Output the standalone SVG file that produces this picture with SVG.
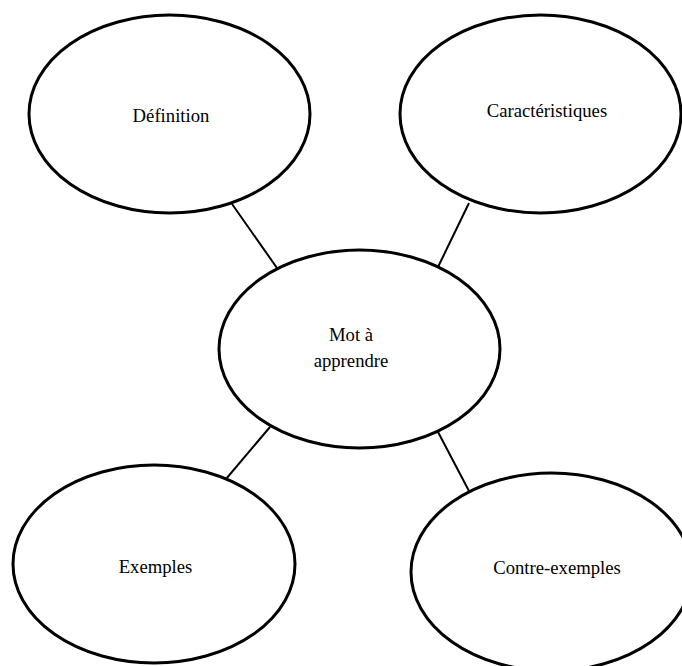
<svg xmlns="http://www.w3.org/2000/svg" width="682" height="666" viewBox="0 0 682 666">
<style>
.node ellipse{fill:#fff;stroke:#000;stroke-width:3}
.node text{font-family:"Liberation Serif","Times New Roman",serif;font-size:18.7px;fill:#000;text-anchor:middle}
#connectors line{stroke:#000;stroke-width:2}
</style>
<rect width="682" height="666" fill="#fff"/>
<g id="connectors">
<line x1="232" y1="204" x2="277" y2="268"/>
<line x1="469" y1="203" x2="438" y2="267"/>
<line x1="270" y1="427" x2="226" y2="479"/>
<line x1="438" y1="432" x2="469" y2="491"/>
</g>
<g id="definition" class="node">
<ellipse cx="169.5" cy="114" rx="140.5" ry="99"/>
<text x="171" y="122">Définition</text>
</g>
<g id="caracteristiques" class="node">
<ellipse cx="540.5" cy="114" rx="140.5" ry="99"/>
<text x="547" y="117">Caractéristiques</text>
</g>
<g id="mot" class="node">
<ellipse cx="359.5" cy="349" rx="140.5" ry="99"/>
<text x="351" y="341">Mot à</text>
<text x="351" y="367">apprendre</text>
</g>
<g id="exemples" class="node">
<ellipse cx="154" cy="564" rx="141" ry="99"/>
<text x="155.5" y="573">Exemples</text>
</g>
<g id="contre-exemples" class="node">
<ellipse cx="551.5" cy="572" rx="140.5" ry="99"/>
<text x="557" y="574">Contre-exemples</text>
</g>
</svg>
